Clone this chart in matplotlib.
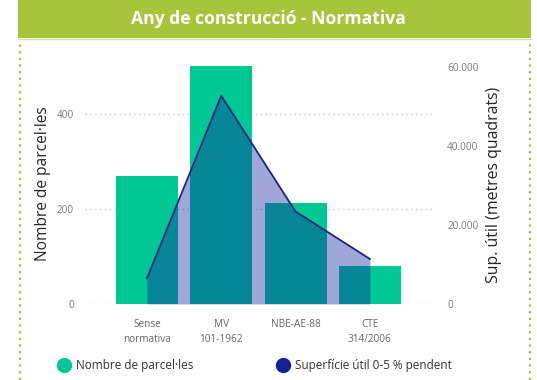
import matplotlib
matplotlib.use("Agg")
import matplotlib.pyplot as plt
from matplotlib.lines import Line2D
from matplotlib.patches import Rectangle
from matplotlib.ticker import FuncFormatter

# Dades per normativa
categories = ["Sense\nnormativa", "MV\n101-1962", "NBE-AE-88", "CTE\n314/2006"]
parceles = [270, 500, 213, 79]
superficie = [6500, 52700, 23400, 11400]
left_ticks = [0, 200, 400]
right_ticks = [0, 20000, 40000, 60000]

BAR_GREEN = "#00c895"
NAVY = "#12239e"
TITLE_GREEN = "#a7c43b"
GRID = "#c8c8c8"
TICK_GRAY = "#7a7a7a"

W, H = 537, 380
fig = plt.figure(figsize=(W / 100, H / 100), dpi=100)
fig.patch.set_facecolor("white")

# capçalera verda
fig.add_artist(Rectangle((18 / W, 1 - 38 / H), (531 - 18) / W, 38 / H,
                         transform=fig.transFigure, color=TITLE_GREEN, lw=0))
fig.add_artist(Line2D([18 / W, 531 / W], [1 - 39 / H] * 2, transform=fig.transFigure,
                      color="#d4e39a", lw=1))
fig.text(268 / W, 1 - 19 / H, "Any de construcció - Normativa", color="white",
         fontsize=12.6, fontweight="bold", family="Open Sans", ha="center", va="center")

# vores puntejades
for xb in (20, 530):
    fig.add_artist(Line2D([xb / W] * 2, [0, 1 - 42 / H], transform=fig.transFigure,
                          color=TITLE_GREEN, lw=1.6, ls=(0, (1, 2))))

ax = fig.add_axes([85 / W, 76 / H, 347 / W, 247 / H])
ax2 = ax.twinx()

x = range(len(categories))
ax.bar(x, parceles, width=0.835, color=BAR_GREEN, zorder=2)
ax.set_xlim(-0.834, 3.836)
ymax = 520
ax.set_ylim(0, ymax)
ax.set_yticks(left_ticks)
ax.yaxis.grid(True, color=GRID, ls=(0, (1, 2.5)), lw=1.0)
ax.set_axisbelow(True)

ax2.fill_between(x, superficie, color=NAVY, alpha=0.4, lw=0, zorder=2)
ax2.plot(x, superficie, color="#1a2580", lw=1.3, zorder=3)
ax2.set_ylim(0, ymax * 120.25)
ax2.set_yticks(right_ticks)
ax2.yaxis.set_major_formatter(FuncFormatter(lambda v, p: f"{int(v):,}".replace(",", ".")))

ax.set_xticks(list(x))
ax.set_xticklabels(categories, fontsize=7.2, color="#666666", family="Open Sans",
                   linespacing=1.5)
ax.tick_params(axis="x", length=0, pad=11)
ax.tick_params(axis="y", length=0, pad=8, labelsize=7.2, labelcolor=TICK_GRAY)
ax2.tick_params(axis="y", length=0, pad=11, labelsize=7.2, labelcolor=TICK_GRAY)
for lab in ax.get_yticklabels() + ax2.get_yticklabels():
    lab.set_family("Open Sans")

for a in (ax, ax2):
    for s in a.spines.values():
        s.set_visible(False)
ax2.patch.set_visible(False)

fig.text(43 / W, 1 - 184 / H, "Nombre de parcel·les", rotation=90, fontsize=11.2,
         color="#252525", family="Open Sans", ha="center", va="center")
fig.text(494 / W, 1 - 185 / H, "Sup. útil (metres quadrats)", rotation=90, fontsize=11.4,
         color="#252525", family="Open Sans", ha="center", va="center")

# llegenda
handles = [
    Line2D([], [], ls="", marker="o", ms=10, color=BAR_GREEN),
    Line2D([], [], ls="", marker="o", ms=10, color="#151f9a"),
]
fig.legend(handles, ["Nombre de parcel·les", "Superfície útil 0-5 % pendent"],
           loc="center left", bbox_to_anchor=(46 / W, 1 - 366 / H), ncol=2,
           frameon=False, handletextpad=0.45, columnspacing=6.95, handlelength=1.2,
           prop={"family": "Open Sans", "size": 8.5}, labelcolor="#333333")

fig.savefig("out.png", dpi=100, facecolor="white")
